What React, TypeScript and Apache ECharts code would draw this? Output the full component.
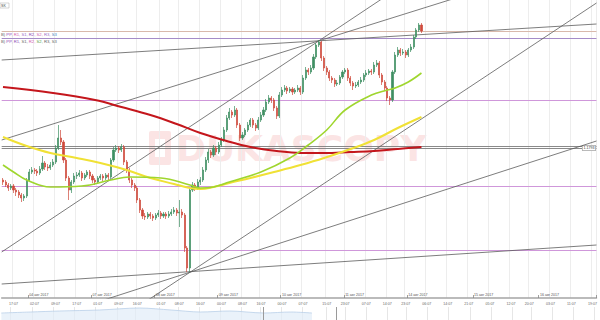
import React, { useEffect, useRef } from "react";
import * as echarts from "echarts";

// ---------- data ----------
const SLOT_COUNT = 226;
const slotNames: string[] = Array.from({ length: SLOT_COUNT }, (_, i) => String(i));

const timeTickSlots = [4, 12, 20, 28, 36, 44, 51, 60, 67, 75, 83, 91, 98, 106, 114, 123, 130, 138, 146, 153, 161, 169, 177, 185, 193, 200, 208, 216, 224];
const timeTickLabels = ["17:07", "02:07", "09:07", "17:07", "01:07", "09:07", "16:07", "01:07", "08:07", "16:07", "00:07", "08:07", "16:07", "00:07", "07:07", "15:07", "23:07", "07:07", "14:07", "23:07", "06:07", "14:07", "21:07", "05:07", "12:07", "20:07", "03:07", "11:07", "19:07"];
const dateTickSlots = [10, 34, 58, 82, 106, 130, 154, 179, 204];
const dateTickLabels = ["04 авг 2017", "07 авг 2017", "08 авг 2017", "09 авг 2017", "10 авг 2017", "11 авг 2017", "14 авг 2017", "15 авг 2017", "16 авг 2017"];

// [open, close, low, high]
const candles: number[][] = [
  [1.1760, 1.1758, 1.1755, 1.1762], [1.1758, 1.1755, 1.1753, 1.1760], [1.1755, 1.1752, 1.1749, 1.1757], [1.1752, 1.1754, 1.1750, 1.1756],
  [1.1754, 1.1750, 1.1747, 1.1756], [1.1750, 1.1748, 1.1744, 1.1752], [1.1748, 1.1745, 1.1742, 1.1750], [1.1745, 1.1742, 1.1738, 1.1747],
  [1.1742, 1.1744, 1.1739, 1.1746], [1.1744, 1.1760, 1.1742, 1.1762], [1.1760, 1.1768, 1.1758, 1.1771], [1.1768, 1.1770, 1.1766, 1.1773],
  [1.1770, 1.1769, 1.1766, 1.1772], [1.1769, 1.1767, 1.1764, 1.1771], [1.1767, 1.1771, 1.1765, 1.1774], [1.1771, 1.1777, 1.1769, 1.1784],
  [1.1777, 1.1773, 1.1770, 1.1779], [1.1773, 1.1772, 1.1769, 1.1776], [1.1772, 1.1775, 1.1770, 1.1778], [1.1775, 1.1778, 1.1773, 1.1781],
  [1.1778, 1.1792, 1.1776, 1.1795], [1.1792, 1.1802, 1.1790, 1.1815], [1.1802, 1.1798, 1.1795, 1.1810], [1.1798, 1.1780, 1.1777, 1.1800],
  [1.1780, 1.1762, 1.1759, 1.1782], [1.1762, 1.1750, 1.1740, 1.1764], [1.1750, 1.1758, 1.1747, 1.1760], [1.1758, 1.1764, 1.1756, 1.1767],
  [1.1764, 1.1765, 1.1761, 1.1768], [1.1765, 1.1767, 1.1763, 1.1770], [1.1767, 1.1762, 1.1759, 1.1769], [1.1762, 1.1765, 1.1760, 1.1767],
  [1.1765, 1.1768, 1.1763, 1.1770], [1.1768, 1.1764, 1.1761, 1.1770], [1.1764, 1.1760, 1.1757, 1.1766], [1.1760, 1.1758, 1.1755, 1.1762],
  [1.1758, 1.1762, 1.1756, 1.1764], [1.1762, 1.1764, 1.1760, 1.1766], [1.1764, 1.1762, 1.1759, 1.1766], [1.1762, 1.1765, 1.1760, 1.1767],
  [1.1765, 1.1763, 1.1760, 1.1767], [1.1763, 1.1780, 1.1761, 1.1782], [1.1780, 1.1790, 1.1778, 1.1793], [1.1790, 1.1792, 1.1788, 1.1795],
  [1.1792, 1.1790, 1.1787, 1.1794], [1.1790, 1.1793, 1.1788, 1.1796], [1.1793, 1.1778, 1.1775, 1.1795], [1.1778, 1.1770, 1.1767, 1.1780],
  [1.1770, 1.1760, 1.1757, 1.1772], [1.1760, 1.1755, 1.1752, 1.1762], [1.1755, 1.1752, 1.1749, 1.1757], [1.1752, 1.1740, 1.1737, 1.1754],
  [1.1740, 1.1730, 1.1727, 1.1742], [1.1730, 1.1724, 1.1721, 1.1732], [1.1724, 1.1723, 1.1720, 1.1727], [1.1723, 1.1726, 1.1721, 1.1728],
  [1.1726, 1.1724, 1.1721, 1.1728], [1.1724, 1.1722, 1.1719, 1.1726], [1.1722, 1.1725, 1.1720, 1.1727], [1.1725, 1.1727, 1.1723, 1.1730],
  [1.1727, 1.1724, 1.1721, 1.1729], [1.1724, 1.1726, 1.1722, 1.1728], [1.1726, 1.1724, 1.1721, 1.1728], [1.1724, 1.1726, 1.1722, 1.1729],
  [1.1726, 1.1728, 1.1724, 1.1731], [1.1728, 1.1730, 1.1726, 1.1733], [1.1730, 1.1727, 1.1724, 1.1732], [1.1727, 1.1728, 1.1713, 1.1740],
  [1.1728, 1.1725, 1.1722, 1.1731], [1.1725, 1.1692, 1.1688, 1.1727], [1.1692, 1.1672, 1.1668, 1.1694], [1.1672, 1.1750, 1.1668, 1.1753],
  [1.1750, 1.1755, 1.1748, 1.1758], [1.1755, 1.1752, 1.1749, 1.1757], [1.1752, 1.1758, 1.1750, 1.1761], [1.1758, 1.1760, 1.1755, 1.1763],
  [1.1760, 1.1770, 1.1758, 1.1773], [1.1770, 1.1780, 1.1768, 1.1783], [1.1780, 1.1788, 1.1777, 1.1791], [1.1788, 1.1785, 1.1782, 1.1790],
  [1.1785, 1.1792, 1.1783, 1.1795], [1.1792, 1.1788, 1.1785, 1.1794], [1.1788, 1.1795, 1.1786, 1.1798], [1.1795, 1.1800, 1.1793, 1.1803],
  [1.1800, 1.1810, 1.1798, 1.1813], [1.1810, 1.1822, 1.1808, 1.1825], [1.1822, 1.1828, 1.1820, 1.1832], [1.1828, 1.1825, 1.1822, 1.1830],
  [1.1825, 1.1830, 1.1823, 1.1834], [1.1830, 1.1815, 1.1812, 1.1832], [1.1815, 1.1802, 1.1799, 1.1817], [1.1802, 1.1805, 1.1800, 1.1808],
  [1.1805, 1.1810, 1.1803, 1.1812], [1.1810, 1.1815, 1.1808, 1.1818], [1.1815, 1.1820, 1.1813, 1.1822], [1.1820, 1.1815, 1.1812, 1.1822],
  [1.1815, 1.1812, 1.1809, 1.1817], [1.1812, 1.1820, 1.1810, 1.1823], [1.1820, 1.1825, 1.1818, 1.1828], [1.1825, 1.1830, 1.1823, 1.1833],
  [1.1830, 1.1838, 1.1828, 1.1841], [1.1838, 1.1842, 1.1836, 1.1845], [1.1842, 1.1840, 1.1837, 1.1844], [1.1840, 1.1832, 1.1829, 1.1842],
  [1.1832, 1.1824, 1.1821, 1.1834], [1.1824, 1.1845, 1.1822, 1.1848], [1.1845, 1.1850, 1.1843, 1.1853], [1.1850, 1.1852, 1.1848, 1.1855],
  [1.1852, 1.1849, 1.1846, 1.1854], [1.1849, 1.1851, 1.1847, 1.1853], [1.1851, 1.1848, 1.1845, 1.1853], [1.1848, 1.1850, 1.1846, 1.1852],
  [1.1850, 1.1852, 1.1848, 1.1855], [1.1852, 1.1848, 1.1845, 1.1854], [1.1848, 1.1862, 1.1846, 1.1865], [1.1862, 1.1870, 1.1860, 1.1873],
  [1.1870, 1.1868, 1.1865, 1.1872], [1.1868, 1.1872, 1.1866, 1.1875], [1.1872, 1.1883, 1.1870, 1.1886], [1.1883, 1.1895, 1.1881, 1.1897],
  [1.1895, 1.1898, 1.1893, 1.1900], [1.1898, 1.1882, 1.1879, 1.1899], [1.1882, 1.1872, 1.1869, 1.1884], [1.1872, 1.1868, 1.1865, 1.1874],
  [1.1868, 1.1862, 1.1859, 1.1870], [1.1862, 1.1860, 1.1857, 1.1864], [1.1860, 1.1856, 1.1853, 1.1862], [1.1856, 1.1857, 1.1854, 1.1860],
  [1.1857, 1.1863, 1.1855, 1.1865], [1.1863, 1.1868, 1.1861, 1.1870], [1.1868, 1.1870, 1.1866, 1.1872], [1.1870, 1.1862, 1.1859, 1.1872],
  [1.1862, 1.1857, 1.1854, 1.1864], [1.1857, 1.1854, 1.1850, 1.1859], [1.1854, 1.1855, 1.1852, 1.1858], [1.1855, 1.1858, 1.1853, 1.1860],
  [1.1858, 1.1860, 1.1856, 1.1863], [1.1860, 1.1865, 1.1858, 1.1867], [1.1865, 1.1867, 1.1863, 1.1870], [1.1867, 1.1869, 1.1865, 1.1871],
  [1.1869, 1.1868, 1.1865, 1.1871], [1.1868, 1.1875, 1.1866, 1.1878], [1.1875, 1.1877, 1.1873, 1.1880], [1.1877, 1.1865, 1.1862, 1.1879],
  [1.1865, 1.1858, 1.1855, 1.1867], [1.1858, 1.1852, 1.1849, 1.1860], [1.1852, 1.1842, 1.1839, 1.1854], [1.1842, 1.1840, 1.1835, 1.1844],
  [1.1840, 1.1868, 1.1838, 1.1870], [1.1868, 1.1885, 1.1866, 1.1888], [1.1885, 1.1890, 1.1883, 1.1893], [1.1890, 1.1887, 1.1884, 1.1892],
  [1.1887, 1.1888, 1.1885, 1.1891], [1.1888, 1.1885, 1.1882, 1.1890], [1.1885, 1.1890, 1.1883, 1.1892], [1.1890, 1.1893, 1.1888, 1.1896],
  [1.1893, 1.1903, 1.1891, 1.1905], [1.1903, 1.1910, 1.1901, 1.1912], [1.1910, 1.1915, 1.1908, 1.1917], [1.1915, 1.1909, 1.1907, 1.1917],
];

// moving averages: sampled at candle slots
const maRedSlots = [0, 19, 35, 45, 56, 66, 75, 85, 94, 104, 113, 122, 132, 141, 150, 159];
const maRedValues = [1.1853, 1.1847, 1.1840, 1.1833, 1.1825, 1.1816, 1.1807, 1.1799, 1.1793, 1.1789, 1.1787, 1.1787, 1.1788, 1.1789, 1.1791, 1.1793];
const maYellowSlots = [0, 9, 18, 28, 37, 47, 56, 65, 71, 75, 80, 86, 94, 103, 113, 122, 131, 141, 150, 159];
const maYellowValues = [1.1803, 1.1794, 1.1787, 1.1782, 1.1777, 1.1770, 1.1762, 1.1756, 1.1752, 1.1751, 1.1753, 1.1757, 1.1762, 1.1768, 1.1775, 1.1782, 1.1790, 1.1800, 1.1812, 1.1823];
const maGreenSlots = [0, 4, 9, 18, 30, 41, 48, 60, 71, 75, 80, 86, 98, 109, 116, 123, 130, 140, 146, 149, 154, 159];
const maGreenValues = [1.1775, 1.1768, 1.1760, 1.1753, 1.1754, 1.1760, 1.1763, 1.1762, 1.1755, 1.1752, 1.1753, 1.1758, 1.1768, 1.1782, 1.1795, 1.1810, 1.1830, 1.1845, 1.1850, 1.1852, 1.1858, 1.1867];

// trend lines: [slotStart, priceStart, slotEnd, priceEnd]
const trendLines = [
  [-0.5, 1.1880, 225.5, 1.1916],
  [-0.5, 1.1800, 225.5, 1.1986],
  [-0.5, 1.1688, 225.5, 1.2084],
  [-0.5, 1.1543, 225.5, 1.1937],
  [-0.5, 1.1607, 225.5, 1.1799],
  [-0.5, 1.1656, 225.5, 1.1695],
];

// horizontal pivot levels
const pivotLevels = [1.1909, 1.1902, 1.1840, 1.1754, 1.1690];
const pivotColors = ["#d9b9ab", "#a58cc8", "#cf97da", "#cf97da", "#cf97da"];
const keyLevels = [1.1794, 1.1792];
const keyLevelLabel = "1.1793";

// navigator overview
const navSlots = [0, 11, 22, 37, 52, 64, 75, 86, 99, 109, 117];
const navValues = [7, 8, 9, 10, 12, 10, 8, 9, 7, 8, 7];

const Y_MIN = 1.1642;
const Y_MAX = 1.1940;

const timeMap: Record<number, string> = {};
timeTickSlots.forEach((s, i) => (timeMap[s] = timeTickLabels[i]));
const dateMap: Record<number, string> = {};
dateTickSlots.forEach((s, i) => (dateMap[s] = dateTickLabels[i]));

const FONT = "'Liberation Sans', Arial, sans-serif";

export default function App() {
  const ref = useRef<HTMLDivElement>(null);
  useEffect(() => {
    if (!ref.current) return;
    const chart = echarts.init(ref.current, undefined, { renderer: "svg" });

    const trendSeries = trendLines.map((t) => ({
      type: "line",
      xAxisIndex: 2,
      yAxisIndex: 0,
      data: [[t[0], t[1]], [t[2], t[3]]],
      showSymbol: false,
      silent: true,
      z: 4,
      lineStyle: { color: "#5c5c5c", width: 0.8 },
    }));

    const maSeries = (slots: number[], vals: number[], color: string, width: number, z: number) => ({
      type: "line",
      xAxisIndex: 2,
      yAxisIndex: 0,
      data: slots.map((s, i) => [s, vals[i]]),
      smooth: 0.4,
      showSymbol: false,
      silent: true,
      z,
      lineStyle: { color, width },
    });

    const option: any = {
      animation: false,
      backgroundColor: "#ffffff",
      grid: [
        { left: 0, right: 0, top: 0, height: 298 },
        { left: 0, right: 0, top: 307, height: 13 },
      ],
      xAxis: [
        {
          type: "category",
          gridIndex: 0,
          position: "bottom",
          data: slotNames,
          boundaryGap: true,
          axisLine: { show: true, lineStyle: { color: "#a5a5a5", width: 1.5 } },
          axisTick: { show: false },
          axisLabel: {
            show: true,
            interval: 0,
            formatter: (_v: string, i: number) => timeMap[i] ?? "",
            fontSize: 3.6,
            color: "#666",
            margin: 4,
            fontFamily: FONT,
          },
          splitLine: { show: true, interval: (i: number) => timeMap[i] !== undefined, lineStyle: { color: "#ededed", width: 1 } },
        },
        {
          type: "category",
          gridIndex: 0,
          position: "bottom",
          data: slotNames,
          boundaryGap: true,
          axisLine: { show: false },
          axisTick: { show: true, inside: true, length: 3, interval: (i: number) => dateMap[i] !== undefined, lineStyle: { color: "#888", width: 0.8 } },
          axisLabel: {
            show: true,
            inside: true,
            interval: 0,
            align: "left",
            formatter: (_v: string, i: number) => dateMap[i] ?? "",
            fontSize: 3.6,
            color: "#555",
            margin: 1,
            fontFamily: FONT,
          },
          splitLine: { show: false },
        },
        { type: "value", gridIndex: 0, position: "bottom", min: -0.5, max: 225.5, show: false },
        {
          type: "category",
          gridIndex: 1,
          position: "bottom",
          data: slotNames,
          boundaryGap: true,
          axisLine: { show: false },
          axisTick: { show: false },
          axisLabel: { show: false },
          splitLine: { show: true, interval: (i: number) => timeMap[i] !== undefined, lineStyle: { color: "#e6e6e6", width: 1 } },
        },
        { type: "value", gridIndex: 1, position: "bottom", min: -0.5, max: 225.5, show: false },
      ],
      yAxis: [
        { type: "value", gridIndex: 0, min: Y_MIN, max: Y_MAX, show: false, splitLine: { show: false } },
        { type: "value", gridIndex: 1, min: 0, max: 13, show: false, splitLine: { show: false } },
      ],
      graphic: [
        {
          type: "rect",
          z: 0,
          silent: true,
          shape: { x: 149, y: 131, width: 22, height: 34, r: 2 },
          style: { fill: "#fbe4e4" },
        },
        {
          type: "rect",
          z: 0,
          silent: true,
          shape: { x: 155, y: 139, width: 10, height: 18 },
          style: { fill: "#ffffff" },
        },
        {
          type: "text",
          z: 0,
          silent: true,
          x: 176,
          y: 148,
          style: {
            text: "DUKASCOPY",
            font: "bold 36px 'DejaVu Sans', sans-serif",
            fill: "#fbe4e4",
            textVerticalAlign: "middle",
          },
        },
        {
          type: "rect",
          z: 10,
          shape: { x: 0, y: 3, width: 9, height: 5 },
          style: { fill: "#fff", stroke: "#aaa", lineWidth: 0.5 },
        },
        {
          type: "text",
          z: 11,
          x: 1,
          y: 5.5,
          style: { text: "SK", font: `3.6px ${FONT}`, fill: "#444", textVerticalAlign: "middle" },
        },
        {
          type: "text",
          z: 11,
          x: 1,
          y: 34,
          style: {
            text: "{g|B)} {a|PP,} {b|R1,} {c|S1,} {a|R2,} {b|S2,} {c|R3,} {d|S3}",
            font: `4.2px ${FONT}`,
            textVerticalAlign: "middle",
            rich: {
              g: { fill: "#666", fontSize: 4.2 },
              a: { fill: "#8e4bb5", fontSize: 4.2 },
              b: { fill: "#d05bb0", fontSize: 4.2 },
              c: { fill: "#9c6cc8", fontSize: 4.2 },
              d: { fill: "#4a7fc0", fontSize: 4.2 },
            },
          },
        },
        {
          type: "text",
          z: 11,
          x: 1,
          y: 41,
          style: {
            text: "{g|B)} {a|PP,} {a|R1,} {g|S1,} {b|R2,} {e|S2,} {g|R3,} {g|S3}",
            font: `4.2px ${FONT}`,
            textVerticalAlign: "middle",
            rich: {
              g: { fill: "#666", fontSize: 4.2 },
              a: { fill: "#8e4bb5", fontSize: 4.2 },
              b: { fill: "#d05bb0", fontSize: 4.2 },
              e: { fill: "#5aa04a", fontSize: 4.2 },
            },
          },
        },
      ],
      series: [
        {
          type: "candlestick",
          xAxisIndex: 0,
          yAxisIndex: 0,
          data: candles,
          barWidth: 1.6,
          z: 5,
          itemStyle: {
            color: "#3f8f63",
            color0: "#cf4a3c",
            borderColor: "#3f8f63",
            borderColor0: "#cf4a3c",
            borderWidth: 0.7,
          },
          markLine: {
            silent: true,
            precision: 4,
            symbol: ["none", "none"],
            label: { show: false },
            z: 3,
            data: [
              ...pivotLevels.map((v, i) => ({ yAxis: v, lineStyle: { color: pivotColors[i], width: 1, type: "solid" } })),
              { yAxis: keyLevels[0], lineStyle: { color: "#7d7d7d", width: 0.9, type: "solid" } },
              {
                yAxis: keyLevels[1],
                lineStyle: { color: "#7d7d7d", width: 0.9, type: "solid" },
                label: {
                  show: true,
                  position: "insideEnd",
                  formatter: keyLevelLabel,
                  fontSize: 3.6,
                  color: "#333",
                  fontFamily: FONT,
                  backgroundColor: "#fff",
                  borderColor: "#777",
                  borderWidth: 0.5,
                  padding: [0.5, 1],
                  distance: 1,
                },
              },
            ],
          },
        },
        maSeries(maRedSlots, maRedValues, "#c4161c", 2, 6),
        maSeries(maYellowSlots, maYellowValues, "#f0e135", 2, 6),
        maSeries(maGreenSlots, maGreenValues, "#9fd62e", 1.6, 6),
        ...trendSeries,
        {
          type: "line",
          xAxisIndex: 4,
          yAxisIndex: 1,
          data: navSlots.map((s, i) => [s, navValues[i]]),
          smooth: 0.3,
          showSymbol: false,
          silent: true,
          lineStyle: { color: "#b9cfe8", width: 0.8 },
          areaStyle: { color: "#e1ecf8" },
          markLine: {
            silent: true,
            precision: 2,
            symbol: ["none", "none"],
            label: { show: false },
            data: [
              { xAxis: 98.6, lineStyle: { color: "#9a9a9a", width: 1, type: "solid" } },
              { xAxis: 126, lineStyle: { color: "#9a9a9a", width: 1, type: "solid" } },
            ],
          },
        },
      ],
    };

    chart.setOption(option);
    return () => chart.dispose();
  }, []);

  return <div ref={ref} style={{ position: "fixed", left: 0, top: 0, width: 600, height: 320 }} />;
}
